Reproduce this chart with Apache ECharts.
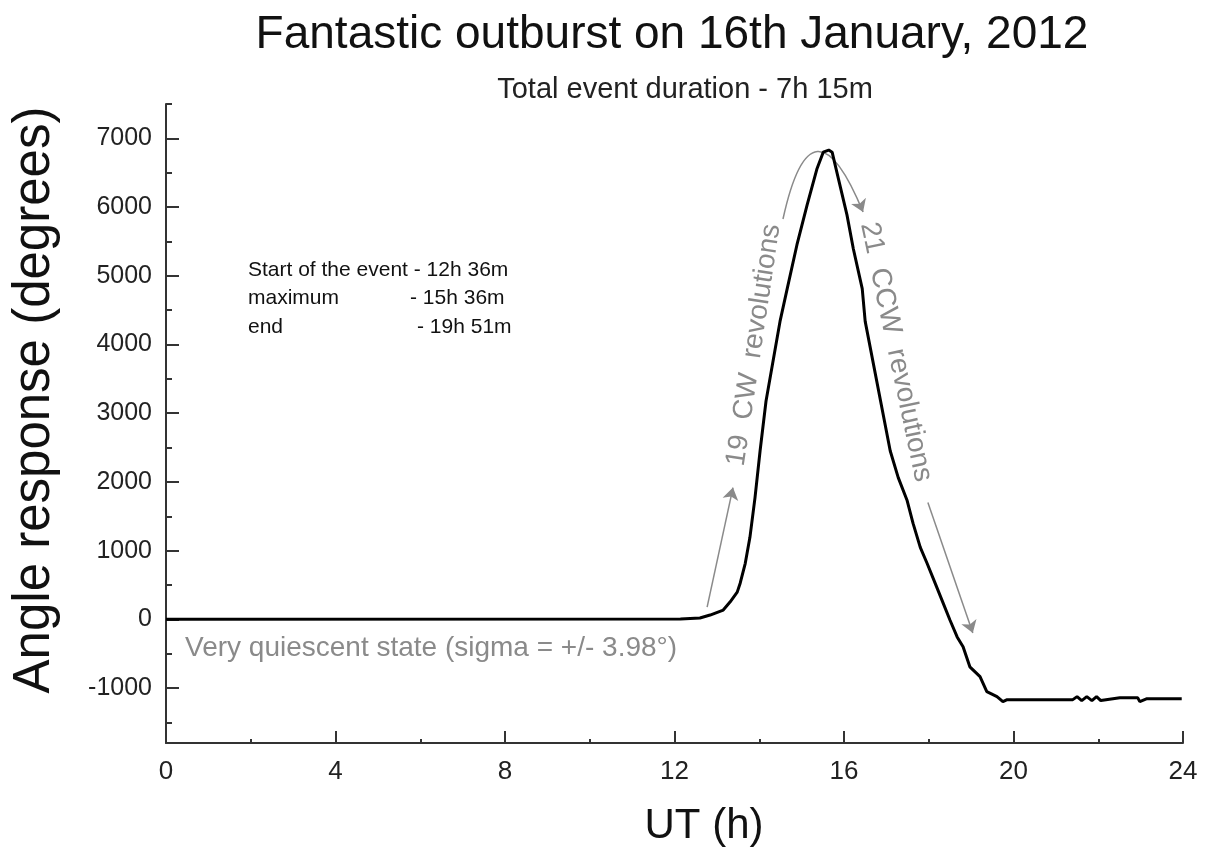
<!DOCTYPE html>
<html><head><meta charset="utf-8">
<script src="https://cdn.jsdelivr.net/npm/echarts@6/dist/echarts.min.js"></script>
<style>html,body{margin:0;padding:0;background:#fff}#c{width:1212px;height:849px}</style>
</head><body><div id="c"></div>
<script>
// UT hours and angle response (degrees)
const timeUT = [0, 12.14, 12.60, 12.84, 13.15, 13.31, 13.48, 13.55, 13.67, 13.78, 13.90, 14.02, 14.16, 14.49, 14.66, 14.89, 15.13, 15.36, 15.51, 15.64, 15.72, 15.87, 16.07, 16.22, 16.43, 16.50, 17.09, 17.28, 17.49, 17.63, 17.80, 17.96, 18.15, 18.34, 18.50, 18.67, 18.81, 18.97, 19.21, 19.37, 19.61, 19.75, 19.85, 21.40, 21.50, 21.61, 21.73, 21.85, 21.96, 22.06, 22.51, 22.93, 22.98, 23.15, 23.97];
const angleDeg = [0, 5, 19, 62, 135, 251, 396, 526, 816, 1193, 1772, 2453, 3177, 4336, 4814, 5452, 6031, 6553, 6799, 6830, 6799, 6408, 5886, 5394, 4814, 4336, 2453, 2062, 1729, 1396, 1048, 816, 526, 236, -10, -256, -400, -691, -835, -1053, -1125, -1198, -1169, -1169, -1125, -1183, -1125, -1183, -1125, -1183, -1140, -1140, -1198, -1155, -1155];
const yMajorTicks = [-1000, 0, 1000, 2000, 3000, 4000, 5000, 6000, 7000];
const yMinorTicks = [-1500, -500, 500, 1500, 2500, 3500, 4500, 5500, 6500, 7500];
const xTickStep = 4;
// annotation arrows (data coordinates)
const cwArrow = [[12.77, 178], [13.38, 1917]];
const ccwArrow = [[17.98, 1700], [19.04, -199]];
const peakArc = [[14.56, 5826], [16.45, 5928]];

const FONT = "'Liberation Sans', Arial, sans-serif";
const GRAY = '#8a8a8a';
const chart = echarts.init(document.getElementById('c'));
const seriesData = timeUT.map((t, i) => [t, angleDeg[i]]);

chart.setOption({
  animation: false,
  backgroundColor: '#fff',
  title: [
    { text: 'Fantastic outburst on 16th January, 2012', left: 667, top: 7, textAlign: 'center',
      textStyle: { fontFamily: FONT, fontSize: 46, fontWeight: 'normal', color: '#111' } },
    { text: 'Total event duration - 7h 15m', left: 680, top: 70, textAlign: 'center',
      textStyle: { fontFamily: FONT, fontSize: 29, fontWeight: 'normal', color: '#222' } }
  ],
  grid: { left: 166, right: 29, top: 104, bottom: 106, containLabel: false },
  xAxis: {
    type: 'value', min: 0, max: 24, interval: xTickStep,
    axisLine: { onZero: false, lineStyle: { color: '#333', width: 2 } },
    axisTick: { inside: true, length: 12, lineStyle: { color: '#333', width: 2 } },
    minorTick: { show: true, splitNumber: 2, length: 4, lineStyle: { color: '#333', width: 2 } },
    axisLabel: { fontFamily: FONT, fontSize: 26, color: '#222', margin: 16 },
    splitLine: { show: false }
  },
  yAxis: [
    {
      type: 'value', min: -1800, max: 7500,
      axisLine: { show: true, onZero: false, lineStyle: { color: '#333', width: 2 } },
      axisTick: { show: true, inside: true, length: 13, customValues: yMajorTicks, lineStyle: { color: '#333', width: 2 } },
      axisLabel: { customValues: yMajorTicks, formatter: v => String(v), fontFamily: FONT, fontSize: 25, color: '#222', margin: 14 },
      splitLine: { show: false }
    },
    {
      type: 'value', min: -1800, max: 7500, position: 'left',
      axisLine: { show: false, onZero: false },
      axisTick: { show: true, inside: true, length: 6, customValues: yMinorTicks, lineStyle: { color: '#333', width: 2 } },
      axisLabel: { show: false },
      splitLine: { show: false }
    }
  ],
  series: [
    {
      type: 'line', data: seriesData, xAxisIndex: 0, yAxisIndex: 0, z: 3,
      symbol: 'none', lineStyle: { color: '#000', width: 3 }
    },
    {
      type: 'lines', coordinateSystem: 'cartesian2d', xAxisIndex: 0, yAxisIndex: 0, silent: true, z: 2,
      symbol: ['none', 'arrow'], symbolSize: 12,
      lineStyle: { color: GRAY, width: 1.5, opacity: 1, curveness: 0 },
      data: [
        { coords: cwArrow },
        { coords: ccwArrow },
        { coords: peakArc, lineStyle: { curveness: 1.6 } }
      ]
    }
  ],
  graphic: [
    { type: 'text', x: 35, y: 400, rotation: Math.PI / 2,
      style: { text: 'Angle response (degrees)', font: "51px " + FONT, fill: '#111', align: 'center', verticalAlign: 'middle' } },
    { type: 'text', x: 704, y: 826,
      style: { text: 'UT (h)', font: "42px " + FONT, fill: '#111', align: 'center', verticalAlign: 'middle' } },
    { type: 'text', x: 248, y: 270,
      style: { text: 'Start of the event - 12h 36m', font: "21px " + FONT, fill: '#111', align: 'left', verticalAlign: 'middle' } },
    { type: 'text', x: 248, y: 298,
      style: { text: 'maximum', font: "21px " + FONT, fill: '#111', align: 'left', verticalAlign: 'middle' } },
    { type: 'text', x: 410, y: 298,
      style: { text: '- 15h 36m', font: "21px " + FONT, fill: '#111', align: 'left', verticalAlign: 'middle' } },
    { type: 'text', x: 248, y: 327,
      style: { text: 'end', font: "21px " + FONT, fill: '#111', align: 'left', verticalAlign: 'middle' } },
    { type: 'text', x: 417, y: 327,
      style: { text: '- 19h 51m', font: "21px " + FONT, fill: '#111', align: 'left', verticalAlign: 'middle' } },
    { type: 'text', x: 185, y: 648,
      style: { text: 'Very quiescent state (sigma = +/- 3.98°)', font: "28px " + FONT, fill: GRAY, align: 'left', verticalAlign: 'middle' } },
    { type: 'text', x: 754, y: 345, rotation: 81.5 * Math.PI / 180,
      style: { text: '19  CW  revolutions', font: "28px " + FONT, fill: GRAY, align: 'center', verticalAlign: 'middle' } },
    { type: 'text', x: 896, y: 352, rotation: -78 * Math.PI / 180,
      style: { text: '21  CCW  revolutions', font: "28px " + FONT, fill: GRAY, align: 'center', verticalAlign: 'middle' } }
  ]
});
</script>
</body></html>
